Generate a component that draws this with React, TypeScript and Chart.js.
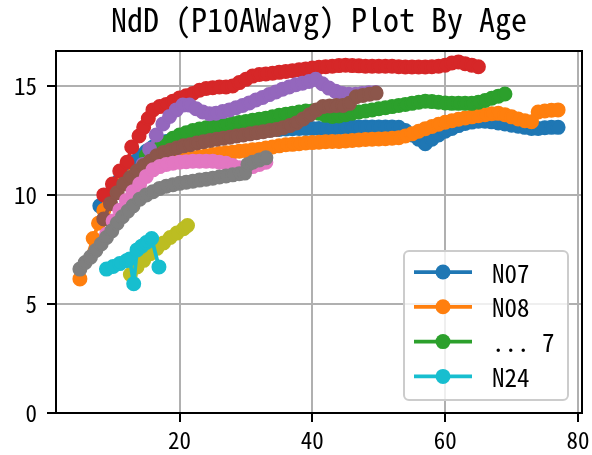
import React, { useEffect, useRef } from 'react';
import { Chart, registerables } from 'chart.js';

Chart.register(...registerables);

const FONT = '"Noto Sans Mono CJK SC", "DejaVu Sans Mono", monospace';
const TITLE = 'NdD (P10AWavg) Plot By Age';

const xTicks = [20, 40, 60, 80];
const yTicks = [0, 5, 10, 15];

const n07Age = [8, 9, 10, 11, 12, 13, 14, 15, 16, 17, 18, 19, 20, 21, 22, 23, 24, 25, 26, 27, 28, 29, 30, 31, 32, 33, 34, 35, 36, 37, 38, 39, 40, 41, 42, 43, 44, 45, 46, 47, 48, 49, 50, 51, 52, 53, 54, 55, 56, 57, 58, 59, 60, 61, 62, 63, 64, 65, 66, 67, 68, 69, 70, 71, 72, 73, 74, 75, 76, 77];
const n07Val = [9.5, 9.9, 10.3, 10.7, 11.1, 11.5, 11.8, 12.0, 12.2, 12.35, 12.45, 12.55, 12.6, 12.65, 12.7, 12.75, 12.8, 12.85, 12.85, 12.9, 12.9, 12.95, 12.95, 13.0, 13.0, 13.0, 13.0, 13.0, 13.02, 13.04, 13.05, 13.05, 13.05, 13.05, 13.05, 13.06, 13.08, 13.1, 13.12, 13.12, 13.12, 13.12, 13.12, 13.12, 13.12, 13.1, 12.95, 12.75, 12.55, 12.35, 12.55, 12.75, 12.92, 13.05, 13.18, 13.28, 13.34, 13.38, 13.38, 13.35, 13.3, 13.25, 13.2, 13.15, 13.1, 13.05, 13.05, 13.08, 13.1, 13.1];

const n08Age = [5, 7, 7.8, 8.6, 9.4, 10.2, 11, 12, 13, 14, 15, 16, 17, 18, 19, 20, 21, 22, 23, 24, 25, 26, 27, 28, 29, 30, 31, 32, 33, 34, 35, 36, 37, 38, 39, 40, 41, 42, 43, 44, 45, 46, 47, 48, 49, 50, 51, 52, 53, 54, 55, 56, 57, 58, 59, 60, 61, 62, 63, 64, 65, 66, 67, 68, 69, 70, 71, 72, 73, 74, 75, 76, 77];
const n08Val = [6.15, 8.0, 8.7, 9.3, 9.75, 10.1, 10.45, 10.7, 10.9, 11.05, 11.2, 11.3, 11.4, 11.5, 11.55, 11.6, 11.65, 11.7, 11.75, 11.8, 11.85, 11.9, 11.93, 11.96, 12.0, 12.03, 12.07, 12.1, 12.15, 12.2, 12.25, 12.3, 12.32, 12.35, 12.38, 12.4, 12.42, 12.44, 12.45, 12.45, 12.47, 12.5, 12.52, 12.54, 12.55, 12.57, 12.58, 12.6, 12.62, 12.7, 12.8, 12.92, 13.04, 13.14, 13.24, 13.33, 13.4, 13.47, 13.53, 13.58, 13.63, 13.68, 13.72, 13.74, 13.68, 13.58, 13.48, 13.4, 13.36, 13.8, 13.85, 13.88, 13.9];

const greenAge = [15, 16, 17, 18, 19, 20, 21, 22, 23, 24, 25, 26, 27, 28, 29, 30, 31, 32, 33, 34, 35, 36, 37, 38, 39, 40, 41, 42, 43, 44, 45, 46, 47, 48, 49, 50, 51, 52, 53, 54, 55, 56, 57, 58, 59, 60, 61, 62, 63, 64, 65, 66, 67, 68, 69];
const greenVal = [11.8, 12.0, 12.2, 12.4, 12.6, 12.75, 12.85, 12.95, 13.02, 13.08, 13.13, 13.18, 13.22, 13.27, 13.32, 13.37, 13.42, 13.47, 13.52, 13.58, 13.65, 13.7, 13.75, 13.8, 13.85, 13.85, 13.75, 13.65, 13.6, 13.62, 13.68, 13.75, 13.8, 13.85, 13.9, 13.95, 14.0, 14.05, 14.1, 14.15, 14.2, 14.25, 14.3, 14.28, 14.25, 14.22, 14.2, 14.2, 14.2, 14.2, 14.25, 14.33, 14.43, 14.53, 14.63];

const redAge = [8.6, 9.9, 11, 12.1, 12.8, 13.9, 14.6, 15.3, 16, 17, 18, 19, 20, 21, 22, 23, 24, 25, 26, 27, 28, 29, 30, 31, 32, 33, 34, 35, 36, 37, 38, 39, 40, 41, 42, 43, 44, 45, 46, 47, 48, 49, 50, 51, 52, 53, 54, 55, 56, 57, 58, 59, 60, 61, 62, 63, 64, 65];
const redVal = [10.0, 10.5, 11.1, 11.5, 12.2, 12.7, 13.1, 13.5, 13.9, 14.05, 14.15, 14.3, 14.45, 14.55, 14.65, 14.8, 14.88, 14.92, 14.95, 14.95, 15.0, 15.15, 15.3, 15.45, 15.52, 15.55, 15.58, 15.62, 15.66, 15.7, 15.74, 15.78, 15.82, 15.85, 15.88, 15.9, 15.93, 15.95, 15.93, 15.92, 15.9, 15.9, 15.9, 15.9, 15.9, 15.88, 15.87, 15.87, 15.87, 15.87, 15.88, 15.9, 15.95, 16.05, 16.1, 16.02, 15.95, 15.88];

const purpleAge = [12.5, 13.5, 14.5, 15.5, 16.5, 17.5, 18.5, 19.5, 20.5, 21.5, 22.5, 23.5, 24.5, 25.5, 26.5, 27.5, 28.5, 29.5, 30.5, 31.5, 32.5, 33.5, 34.5, 35.5, 36.5, 37.5, 38.5, 39.5, 40.5, 41.5, 42.5, 43.5, 44.5, 45.5, 46.5, 47.5, 48.5, 49.5];
const purpleVal = [10.5, 10.8, 11.4, 12.1, 12.75, 13.25, 13.6, 13.9, 14.12, 14.12, 13.95, 13.8, 13.72, 13.75, 13.82, 13.9, 14.0, 14.1, 14.22, 14.35, 14.47, 14.6, 14.72, 14.85, 14.95, 15.05, 15.12, 15.2, 15.3, 15.1, 14.9, 14.75, 14.65, 14.62, 14.62, 14.65, 14.68, 14.7];

const brownAge = [8.6, 9.6, 10.6, 11.6, 12.6, 13.6, 14.6, 15.6, 16.6, 17.6, 18.6, 19.6, 20.6, 21.6, 22.6, 23.6, 24.6, 25.6, 26.6, 27.6, 28.6, 29.6, 30.6, 31.6, 32.6, 33.6, 34.6, 35.6, 36.6, 37.6, 38.6, 39.6, 40.6, 41.6, 42.6, 43.6, 44.6, 45.6, 46.6, 47.6, 48.6, 49.6];
const brownVal = [8.9, 9.6, 10.1, 10.5, 10.8, 11.1, 11.35, 11.55, 11.8, 11.95, 12.05, 12.15, 12.25, 12.3, 12.38, 12.44, 12.5, 12.55, 12.6, 12.65, 12.7, 12.75, 12.8, 12.85, 12.9, 12.95, 13.0, 13.08, 13.18, 13.3, 13.48, 13.68, 13.9, 14.05, 14.08, 14.1, 14.1, 14.2, 14.5, 14.56, 14.62, 14.67];

const pinkAge = [9, 10, 11, 12, 13, 14, 15, 16, 17, 18, 19, 20, 21, 22, 23, 24, 25, 26, 27, 28, 29, 30, 31, 32, 33];
const pinkVal = [8.2, 8.8, 9.3, 9.75, 10.15, 10.5, 10.85, 11.15, 11.3, 11.4, 11.45, 11.5, 11.52, 11.55, 11.55, 11.55, 11.55, 11.5, 11.45, 11.35, 11.25, 11.25, 11.3, 11.4, 11.5];

const grayAge = [5, 5.8, 6.6, 7.4, 8.2, 9, 9.8, 10.6, 11.4, 12.2, 13, 14, 15, 16, 17, 18, 19, 20, 21, 22, 23, 24, 25, 26, 27, 28, 29, 29.8, 30.3, 31, 32, 33];
const grayVal = [6.6, 6.9, 7.15, 7.45, 7.75, 8.05, 8.35, 8.7, 9.0, 9.25, 9.5, 9.8, 10.0, 10.15, 10.3, 10.4, 10.47, 10.53, 10.58, 10.63, 10.68, 10.72, 10.77, 10.82, 10.87, 10.92, 10.97, 11.0, 11.4, 11.5, 11.6, 11.7];

const oliveAge = [12.6, 13.6, 14.6, 15.6, 16.6, 17.6, 18.6, 19.6, 20.6, 21.2];
const oliveVal = [6.35, 6.7, 7.0, 7.3, 7.55, 7.8, 8.05, 8.25, 8.45, 8.6];

const n24Age = [9, 10, 11, 12, 12.5, 13.1, 13.6, 14.3, 15, 15.8, 16.9];
const n24Val = [6.6, 6.72, 6.85, 6.98, 7.06, 5.93, 7.48, 7.65, 7.82, 8.0, 6.7];

const seriesLabels = ['N07', 'N08', '', '', '', '', '', '', '', 'N24'];
const seriesAges = [n07Age, n08Age, greenAge, redAge, purpleAge, brownAge, pinkAge, grayAge, oliveAge, n24Age];
const seriesVals = [n07Val, n08Val, greenVal, redVal, purpleVal, brownVal, pinkVal, grayVal, oliveVal, n24Val];
const seriesColors = ['#1f77b4', '#ff7f0e', '#2ca02c', '#d62728', '#9467bd', '#8c564b', '#e377c2', '#7f7f7f', '#bcbd22', '#17becf'];

const legendLabels = ['N07', 'N08', '... 7', 'N24'];
const legendColors = ['#1f77b4', '#ff7f0e', '#2ca02c', '#17becf'];

const X_MIN = 1.4;
const X_MAX = 80.6;
const Y_MIN = 0;
const Y_MAX = 16.6;

const framePlugin = {
  id: 'frame',
  afterDatasetsDraw(chart: any) {
    const { ctx, chartArea: a } = chart;
    ctx.save();
    ctx.strokeStyle = '#000';
    ctx.lineWidth = 2;
    ctx.strokeRect(a.left, a.top, a.right - a.left, a.bottom - a.top);
    ctx.restore();
  },
};

const titlePlugin = {
  id: 'mplTitle',
  afterDraw(chart: any) {
    const { ctx, chartArea: a } = chart;
    ctx.save();
    ctx.fillStyle = '#000';
    ctx.font = `32px ${FONT}`;
    ctx.textAlign = 'center';
    ctx.textBaseline = 'alphabetic';
    ctx.fillText(TITLE, (a.left + a.right) / 2, a.top - 19);
    ctx.restore();
  },
};

const legendPlugin = {
  id: 'mplLegend',
  afterDraw(chart: any) {
    const { ctx, chartArea: a } = chart;
    const w = 164;
    const h = 149;
    const right = a.right - 14;
    const bottom = a.bottom - 13;
    const left = right - w;
    const top = bottom - h;
    const r = 5;
    ctx.save();
    ctx.beginPath();
    ctx.moveTo(left + r, top);
    ctx.lineTo(right - r, top);
    ctx.arcTo(right, top, right, top + r, r);
    ctx.lineTo(right, bottom - r);
    ctx.arcTo(right, bottom, right - r, bottom, r);
    ctx.lineTo(left + r, bottom);
    ctx.arcTo(left, bottom, left, bottom - r, r);
    ctx.lineTo(left, top + r);
    ctx.arcTo(left, top, left + r, top, r);
    ctx.closePath();
    ctx.fillStyle = 'rgba(255,255,255,0.8)';
    ctx.fill();
    ctx.strokeStyle = '#cccccc';
    ctx.lineWidth = 2;
    ctx.stroke();
    ctx.font = `25px ${FONT}`;
    ctx.textBaseline = 'middle';
    ctx.textAlign = 'left';
    legendLabels.forEach((label, i) => {
      const cy = top + 21 + i * 34.8;
      const col = legendColors[i];
      ctx.strokeStyle = col;
      ctx.lineWidth = 3.75;
      ctx.beginPath();
      ctx.moveTo(left + 10, cy);
      ctx.lineTo(left + 68, cy);
      ctx.stroke();
      ctx.fillStyle = col;
      ctx.beginPath();
      ctx.arc(left + 39, cy, 7.5, 0, Math.PI * 2);
      ctx.fill();
      ctx.fillStyle = '#000';
      ctx.fillText(label, left + 88, cy + 1);
    });
    ctx.restore();
  },
};

export default function App() {
  const ref = useRef<HTMLCanvasElement | null>(null);

  useEffect(() => {
    if (!ref.current) return;
    const n = seriesAges.length;
    const datasets = seriesAges.map((ages, i) => ({
      label: seriesLabels[i],
      data: ages.map((x, j) => ({ x, y: seriesVals[i][j] })),
      borderColor: seriesColors[i],
      backgroundColor: seriesColors[i],
      pointBackgroundColor: seriesColors[i],
      pointBorderColor: seriesColors[i],
      borderWidth: 3.75,
      borderJoinStyle: 'round',
      borderCapStyle: 'round',
      pointRadius: 6.5,
      pointBorderWidth: 2,
      pointHoverRadius: 6.5,
      tension: 0,
      showLine: true,
      fill: false,
      order: n - i,
    }));

    const tickFont = { family: FONT, size: 23 };

    const chart = new Chart(ref.current, {
      type: 'line',
      data: { datasets },
      options: {
        responsive: false,
        animation: false,
        devicePixelRatio: 1,
        layout: { padding: { left: 0, right: 10, top: 51, bottom: 0 } },
        plugins: {
          legend: { display: false },
          title: { display: false },
          tooltip: { enabled: false },
        },
        scales: {
          x: {
            type: 'linear',
            min: X_MIN,
            max: X_MAX,
            afterBuildTicks: (s: any) => {
              s.ticks = xTicks.map((v) => ({ value: v }));
            },
            afterFit: (s: any) => {
              s.height = 42;
              s.paddingLeft = 0;
              s.paddingRight = 0;
            },
            grid: {
              color: '#b0b0b0',
              lineWidth: 2,
              tickColor: '#000',
              tickWidth: 2,
              tickLength: 9,
            },
            border: { display: false },
            ticks: {
              color: '#000',
              font: tickFont,
              padding: 4,
              maxRotation: 0,
              autoSkip: false,
            },
          },
          y: {
            type: 'linear',
            min: Y_MIN,
            max: Y_MAX,
            afterBuildTicks: (s: any) => {
              s.ticks = yTicks.map((v) => ({ value: v }));
            },
            afterFit: (s: any) => {
              s.width = 56;
              s.paddingTop = 0;
              s.paddingBottom = 0;
            },
            grid: {
              color: '#b0b0b0',
              lineWidth: 2,
              tickColor: '#000',
              tickWidth: 2,
              tickLength: 9,
            },
            border: { display: false },
            ticks: {
              color: '#000',
              font: tickFont,
              padding: 10,
              autoSkip: false,
            },
          },
        },
      },
      plugins: [framePlugin, titlePlugin, legendPlugin],
    } as any);

    return () => chart.destroy();
  }, []);

  return (
    <div style={{ position: 'absolute', left: 0, top: 0, width: 592, height: 455, background: '#fff' }}>
      <canvas ref={ref} width={592} height={455} style={{ display: 'block' }} />
    </div>
  );
}
